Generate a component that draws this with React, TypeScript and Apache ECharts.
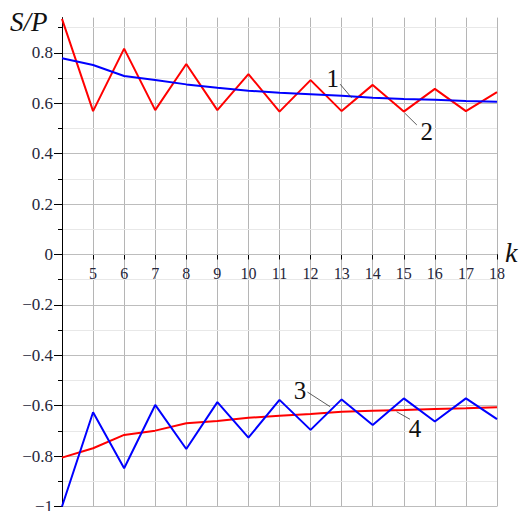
import React, { useEffect, useRef } from 'react';
import * as echarts from 'echarts';

const kValues = [4, 5, 6, 7, 8, 9, 10, 11, 12, 13, 14, 15, 16, 17, 18];
// curve 1 (blue, upper)
const curve1 = [0.779, 0.752, 0.708, 0.692, 0.675, 0.662, 0.65, 0.642, 0.636, 0.63, 0.622, 0.617, 0.614, 0.609, 0.606];
// curve 2 (red, upper)
const curve2 = [0.935, 0.569, 0.817, 0.573, 0.756, 0.573, 0.716, 0.567, 0.692, 0.569, 0.673, 0.567, 0.657, 0.569, 0.644];
// curve 3 (blue, lower)
const curve3 = [-1.0, -0.626, -0.848, -0.597, -0.772, -0.586, -0.727, -0.577, -0.696, -0.575, -0.677, -0.571, -0.663, -0.571, -0.653];
// curve 4 (red, lower)
const curve4 = [-0.806, -0.769, -0.716, -0.699, -0.67, -0.661, -0.648, -0.64, -0.633, -0.624, -0.62, -0.617, -0.613, -0.61, -0.606];

const yMajorValues = [-1, -0.8, -0.6, -0.4, -0.2, 0, 0.2, 0.4, 0.6, 0.8];
const yMajorLabels = ['\u22121', '\u22120.8', '\u22120.6', '\u22120.4', '\u22120.2', '0', '0.2', '0.4', '0.6', '0.8'];
const yMinorValues = [-0.9, -0.7, -0.5, -0.3, -0.1, 0.1, 0.3, 0.5, 0.7, 0.9];
const X_MIN = 4;
const Y_MIN = -1;
const Y_MAX = 0.94;

const curveLabels = ['1', '2', '3', '4'];
const labelAt: [number, number][] = [[12.71, 0.70], [15.74, 0.487], [11.66, -0.538], [15.36, -0.69]];
const leaderFrom: [number, number][] = [[12.95, 0.676], [15.04, 0.56], [11.9, -0.546], [14.77, -0.624]];
const leaderTo: [number, number][] = [[13.32, 0.622], [15.42, 0.514], [12.63, -0.604], [15.2, -0.654]];

const SERIF_CSS = '"Liberation Serif", serif';
const SERIF = 'Liberation Serif';
const TXT = '#26263a';

const W = 522;
const H = 511;
const G_TOP = 17.6;
const G_BOTTOM = 4.5;

function pairs(ys: number[]) {
  return kValues.map((k, i) => [k, ys[i]]);
}

export default function App() {
  const ref = useRef<HTMLDivElement>(null);
  useEffect(() => {
    if (!ref.current) return;
    const chart = echarts.init(ref.current, undefined, { renderer: 'svg' });
    const gridH = H - G_TOP - G_BOTTOM;
    const zeroOffset = -(gridH * (0 - Y_MIN)) / (Y_MAX - Y_MIN);
    chart.setOption({
      animation: false,
      backgroundColor: '#ffffff',
      grid: { left: 62, right: 25, top: G_TOP, bottom: G_BOTTOM, containLabel: false, outerBoundsMode: 'none' },
      xAxis: [
        {
          type: 'value',
          min: X_MIN,
          max: 18,
          interval: 1,
          position: 'bottom',
          offset: zeroOffset,
          axisLine: { onZero: false, lineStyle: { color: '#000', width: 1 } },
          axisTick: { show: true, length: 5, lineStyle: { color: '#000' } },
          axisLabel: {
            margin: 11,
            fontFamily: SERIF,
            fontSize: 16,
            color: TXT,
            formatter: (v: number) => (v === X_MIN ? '' : String(v)),
          },
          splitLine: { show: true, lineStyle: { color: '#b5b5b5', width: 1 } },
        },
      ],
      yAxis: [
        {
          type: 'value',
          min: Y_MIN,
          max: Y_MAX,
          interval: 0.1,
          position: 'left',
          axisLine: { show: true, onZero: false, lineStyle: { color: '#000', width: 1 } },
          axisTick: { show: true, length: 8, lineStyle: { color: '#000' }, customValues: yMajorValues },
          axisLabel: { show: false },
          splitLine: { show: true, lineStyle: { color: '#bdbdbd', width: 1 } },
          z: 2,
        },
        {
          type: 'value',
          min: Y_MIN,
          max: Y_MAX,
          interval: 0.1,
          position: 'left',
          offset: 0,
          axisLine: { show: false, onZero: false },
          axisTick: { show: true, length: 4, lineStyle: { color: '#000' }, customValues: yMinorValues },
          axisLabel: { show: false },
          splitLine: { show: true, lineStyle: { color: '#e8e8e8', width: 1 } },
          z: 1,
        },
      ],
      series: [
        { type: 'line', data: pairs(curve2), yAxisIndex: 0, symbol: 'none', lineStyle: { color: '#ff0000', width: 2 }, z: 3 },
        { type: 'line', data: pairs(curve1), yAxisIndex: 0, symbol: 'none', lineStyle: { color: '#0000ff', width: 2 }, z: 4 },
        { type: 'line', data: pairs(curve4), yAxisIndex: 0, symbol: 'none', lineStyle: { color: '#ff0000', width: 2 }, z: 3 },
        { type: 'line', data: pairs(curve3), yAxisIndex: 0, symbol: 'none', lineStyle: { color: '#0000ff', width: 2 }, z: 4 },
      ],
    });

    const px = (p: [number, number]) => chart.convertToPixel({ xAxisIndex: 0, yAxisIndex: 0 }, p) as number[];
    const graphics: any[] = [
      {
        type: 'text',
        left: 10,
        top: 8,
        style: { text: 'S/P', font: `italic 27px ${SERIF_CSS}`, fill: '#111' },
        z: 10,
      },
      {
        type: 'text',
        left: 505,
        top: 238,
        style: { text: 'k', font: `italic 28px ${SERIF_CSS}`, fill: '#111' },
        z: 10,
      },
    ];
    yMajorValues.forEach((v, i) => {
      const p = px([X_MIN, v]);
      graphics.push({
        type: 'text',
        x: p[0] - 9,
        y: p[1],
        style: {
          text: yMajorLabels[i],
          font: `17px ${SERIF_CSS}`,
          fill: TXT,
          align: 'right',
          verticalAlign: 'middle',
        },
        z: 10,
      });
    });
    curveLabels.forEach((t, i) => {
      const a = px(labelAt[i]);
      const f = px(leaderFrom[i]);
      const b = px(leaderTo[i]);
      graphics.push({
        type: 'text',
        x: a[0],
        y: a[1],
        style: { text: t, font: `25px ${SERIF_CSS}`, fill: '#111', align: 'center', verticalAlign: 'middle' },
        z: 10,
      });
      graphics.push({
        type: 'line',
        shape: { x1: f[0], y1: f[1], x2: b[0], y2: b[1] },
        style: { stroke: '#333', lineWidth: 0.8 },
        z: 10,
      });
    });
    chart.setOption({ graphic: graphics });

    return () => chart.dispose();
  }, []);
  return (
    <div
      ref={ref}
      style={{ position: 'fixed', left: 0, top: 0, width: W, height: H, background: '#fff' }}
    />
  );
}
